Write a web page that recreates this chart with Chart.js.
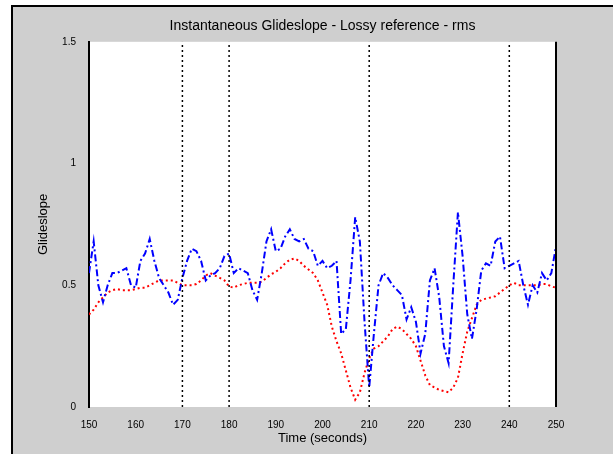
<!DOCTYPE html>
<html>
<head>
<meta charset="utf-8">
<script src="https://cdn.jsdelivr.net/npm/chart.js@4"></script>
<style>
  body { margin: 0; background: #fff; }
  canvas { display: block; }
</style>
</head>
<body>
<canvas id="glideChart" width="613" height="454"></canvas>
<script>
// time axis (seconds)
const times = [150,151,152,153,154,155,156,157,158,159,
  160,161,162,163,164,165,166,167,168,169,
  170,171,172,173,174,175,176,177,178,179,
  180,181,182,183,184,185,186,187,188,189,
  190,191,192,193,194,195,196,197,198,199,
  200,201,202,203,204,205,206,207,208,209,
  210,211,212,213,214,215,216,217,218,219,
  220,221,222,223,224,225,226,227,228,229,
  230,231,232,233,234,235,236,237,238,239,
  240,241,242,243,244,245,246,247,248,249,250];

// instantaneous glideslope (blue dash-dot)
const instant = [0.55,0.68,0.50,0.43,0.50,0.55,0.55,0.56,0.57,0.50,
  0.49,0.60,0.63,0.69,0.60,0.53,0.50,0.47,0.42,0.44,
  0.53,0.60,0.65,0.64,0.60,0.52,0.54,0.55,0.57,0.62,
  0.63,0.55,0.57,0.56,0.55,0.48,0.44,0.55,0.68,0.73,
  0.64,0.65,0.70,0.73,0.69,0.68,0.69,0.65,0.64,0.58,
  0.60,0.57,0.58,0.60,0.30,0.32,0.52,0.78,0.68,0.35,
  0.08,0.30,0.50,0.55,0.53,0.50,0.48,0.46,0.36,0.41,
  0.35,0.22,0.30,0.52,0.57,0.45,0.25,0.18,0.50,0.80,
  0.62,0.38,0.28,0.40,0.56,0.59,0.58,0.68,0.70,0.57,
  0.58,0.59,0.60,0.50,0.42,0.50,0.47,0.55,0.52,0.55,0.66];

// lossy reference (red dotted)
const reference = [0.38,0.40,0.43,0.45,0.47,0.48,0.485,0.48,0.48,0.48,
  0.485,0.49,0.49,0.50,0.51,0.52,0.52,0.52,0.52,0.51,
  0.50,0.50,0.50,0.505,0.52,0.54,0.55,0.54,0.53,0.52,
  0.495,0.49,0.50,0.505,0.51,0.51,0.51,0.515,0.53,0.545,
  0.555,0.57,0.59,0.605,0.61,0.60,0.58,0.565,0.55,0.52,
  0.47,0.42,0.33,0.27,0.22,0.15,0.08,0.03,0.06,0.14,
  0.20,0.24,0.25,0.27,0.29,0.32,0.33,0.32,0.30,0.28,
  0.25,0.19,0.13,0.09,0.08,0.07,0.065,0.06,0.08,0.12,
  0.22,0.31,0.365,0.42,0.44,0.445,0.45,0.455,0.47,0.485,
  0.50,0.51,0.50,0.50,0.50,0.50,0.50,0.505,0.505,0.495,0.49];

// dotted vertical markers
const markerTimes = [170, 180, 210, 240];

const yTicks = [0, 0.5, 1, 1.5];

const toPoints = (ys) => times.map((t, i) => ({ x: t, y: ys[i] }));

const markerSets = markerTimes.map(t => ({
    data: [{ x: t, y: yTicks[0] }, { x: t, y: yTicks[yTicks.length - 1] }],
    borderColor: '#000',
    borderWidth: 1.5,
    borderDash: [2, 3],
    pointRadius: 0,
    order: 0
}));

const framePlugin = {
    id: 'frame',
    beforeDraw(chart) {
        const { ctx, chartArea: a } = chart;
        ctx.save();
        ctx.fillStyle = '#fff';
        ctx.fillRect(0, 0, chart.width, chart.height);
        ctx.fillStyle = '#cfcfcf';
        ctx.fillRect(12, 6, chart.width, chart.height);
        ctx.strokeStyle = '#000';
        ctx.lineWidth = 2;
        ctx.beginPath();
        ctx.moveTo(12, chart.height);
        ctx.lineTo(12, 6);
        ctx.lineTo(chart.width, 6);
        ctx.stroke();
        ctx.fillStyle = '#fff';
        ctx.fillRect(a.left, a.top, a.right - a.left, a.bottom - a.top);
        ctx.restore();
    },
    afterDatasetsDraw(chart) {
        const { ctx, chartArea: a } = chart;
        ctx.save();
        ctx.strokeStyle = '#000';
        ctx.lineWidth = 2;
        ctx.beginPath();
        ctx.moveTo(a.right, a.top);
        ctx.lineTo(a.right, a.bottom);
        ctx.stroke();
        ctx.restore();
    }
};

new Chart(document.getElementById('glideChart').getContext('2d'), {
    type: 'line',
    data: {
        datasets: [
            ...markerSets,
            {
                label: 'Instantaneous',
                data: toPoints(instant),
                borderColor: '#0000ff',
                borderWidth: 2,
                borderDash: [7, 3, 2, 3],
                pointRadius: 0,
                tension: 0,
                order: 1
            },
            {
                label: 'Lossy reference',
                data: toPoints(reference),
                borderColor: '#ff0000',
                borderWidth: 2,
                borderDash: [2, 3],
                pointRadius: 0,
                tension: 0,
                order: 2
            }
        ]
    },
    options: {
        responsive: false,
        animation: false,
        layout: { padding: { left: 0, right: 57, top: 0, bottom: 0 } },
        plugins: {
            legend: { display: false },
            tooltip: { enabled: false },
            title: {
                display: true,
                fullSize: false,
                text: 'Instantaneous Glideslope - Lossy reference - rms',
                color: '#000',
                font: { family: 'Liberation Sans, Arial, sans-serif', size: 14, weight: 'normal' },
                padding: { top: 18, bottom: 7 }
            }
        },
        scales: {
            x: {
                type: 'linear',
                min: 150,
                max: 250,
                afterFit(scale) { scale.height = 47; },
                grid: { display: false },
                border: { display: false },
                ticks: {
                    stepSize: 10,
                    padding: 4,
                    color: '#000',
                    maxRotation: 0,
                    font: { family: 'Liberation Sans, Arial, sans-serif', size: 10 }
                },
                title: {
                    display: true,
                    text: 'Time (seconds)',
                    color: '#000',
                    font: { family: 'Liberation Sans, Arial, sans-serif', size: 13 },
                    padding: { top: 0, bottom: 8 }
                }
            },
            y: {
                min: 0,
                max: 1.5,
                afterFit(scale) { scale.width = 89; },
                afterBuildTicks(scale) { scale.ticks = yTicks.map(v => ({ value: v })); },
                grid: { display: false },
                border: { display: true, color: '#000', width: 2 },
                ticks: {
                    padding: 5,
                    color: '#000',
                    callback: (v) => String(v),
                    font: { family: 'Liberation Sans, Arial, sans-serif', size: 10 }
                },
                title: {
                    display: true,
                    text: 'Glideslope',
                    color: '#000',
                    font: { family: 'Liberation Sans, Arial, sans-serif', size: 13 },
                    padding: { top: 36 }
                }
            }
        }
    },
    plugins: [framePlugin]
});
</script>
</body>
</html>
